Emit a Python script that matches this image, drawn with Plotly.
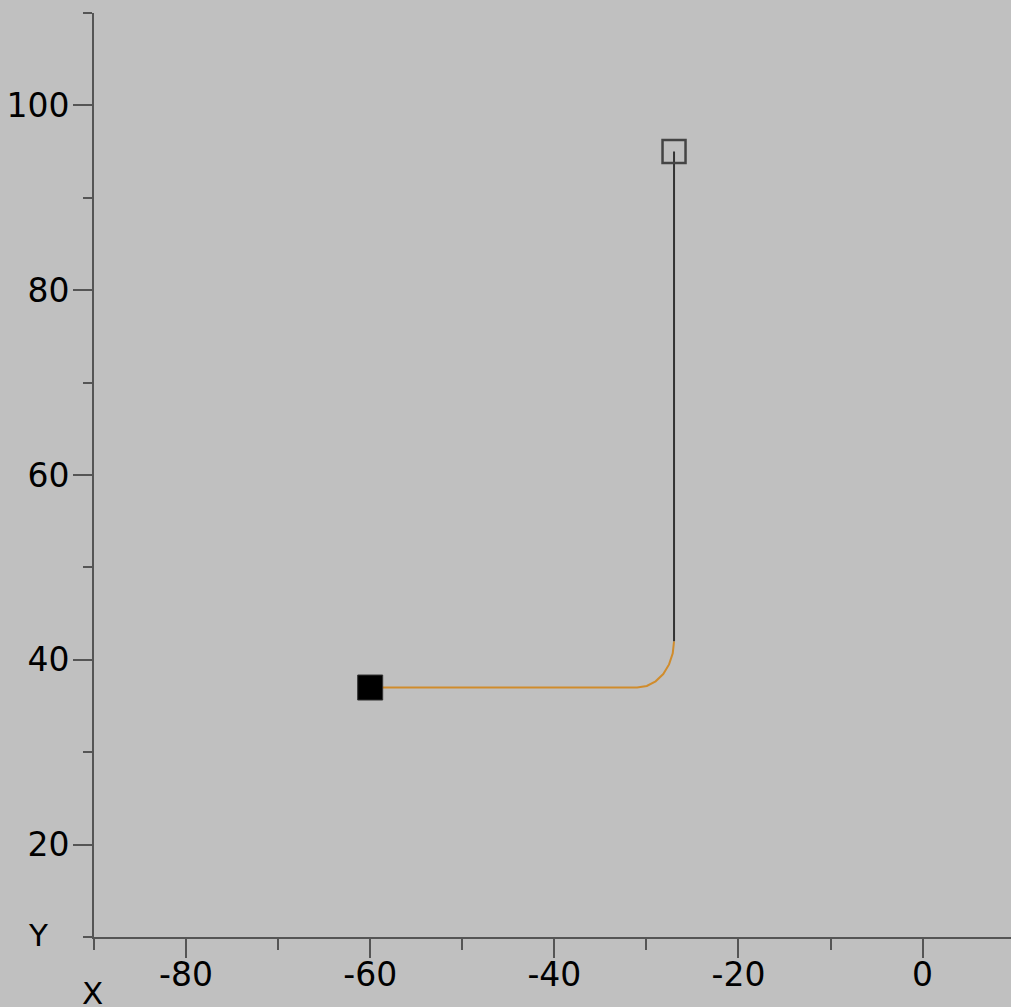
import plotly.graph_objects as go

# Path data
orange_x = [-60, -31, -29.96, -29.0, -28.17, -27.54, -27.14, -27]
orange_y = [37, 37, 37.17, 37.67, 38.46, 39.5, 40.71, 42]
black_x = [-27, -27]
black_y = [42, 95]
start_pt = (-60, 37)
end_pt = (-27, 95)

x_tickvals = [-80, -60, -40, -20, 0]
x_ticktext = ["-80", "-60", "-40", "-20", "0"]
y_tickvals = [20, 40, 60, 80, 100]
y_ticktext = ["20", "40", "60", "80", "100"]

W, H = 1011, 1007
L, T, B, R = 94, 13, 70, 0
pw = W - L - R
ph = H - T - B
FONT = "DejaVu Sans, Arial"

fig = go.Figure()
fig.add_trace(go.Scatter(x=orange_x, y=orange_y, mode="lines",
                         line=dict(color="#d08c2c", width=2), hoverinfo="skip"))
fig.add_trace(go.Scatter(x=black_x, y=black_y, mode="lines",
                         line=dict(color="#333333", width=2), hoverinfo="skip"))
fig.add_trace(go.Scatter(x=[start_pt[0]], y=[start_pt[1]], mode="markers",
                         marker=dict(symbol="square", size=25, color="black",
                                     line=dict(color="#333", width=1))))
fig.add_trace(go.Scatter(x=[end_pt[0]], y=[end_pt[1]], mode="markers",
                         marker=dict(symbol="square-open", size=23, color="#444",
                                     line=dict(width=2.5))))

axis_common = dict(showgrid=False, zeroline=False, showline=True, automargin=False,
                   linecolor="#555555", linewidth=2, ticks="outside",
                   tickcolor="#555555", tickwidth=2, ticklen=19,
                   tickfont=dict(family=FONT, size=33, color="black"))

fig.update_xaxes(range=[-90, 9.6], tickvals=x_tickvals, ticktext=x_ticktext,
                 ticklabelstandoff=-12,
                 minor=dict(dtick=10, tick0=0, ticks="outside", ticklen=11,
                            tickcolor="#555555", tickwidth=2),
                 **axis_common)
fig.update_yaxes(range=[10, 110], tickvals=y_tickvals, ticktext=y_ticktext,
                 ticklabelstandoff=-3,
                 minor=dict(dtick=10, tick0=0, ticks="outside", ticklen=9,
                            tickcolor="#555555", tickwidth=2),
                 **axis_common)

fig.add_annotation(text="Y", xref="paper", yref="paper", xanchor="center", yanchor="middle",
                   x=(38 - L) / pw, y=(H - B - 935) / ph, showarrow=False,
                   font=dict(family=FONT, size=31, color="black"))
fig.add_annotation(text="X", xref="paper", yref="paper", xanchor="center", yanchor="middle",
                   x=(92 - L) / pw, y=(H - B - 993) / ph, showarrow=False,
                   font=dict(family=FONT, size=31, color="black"))

fig.update_layout(width=W, height=H, showlegend=False,
                  margin=dict(l=L, r=R, t=T, b=B),
                  paper_bgcolor="#c0c0c0", plot_bgcolor="#c0c0c0")

fig.write_html("out.html", config={"displayModeBar": False},
               post_script="document.body.style.margin='0';document.body.style.overflow='hidden';")
